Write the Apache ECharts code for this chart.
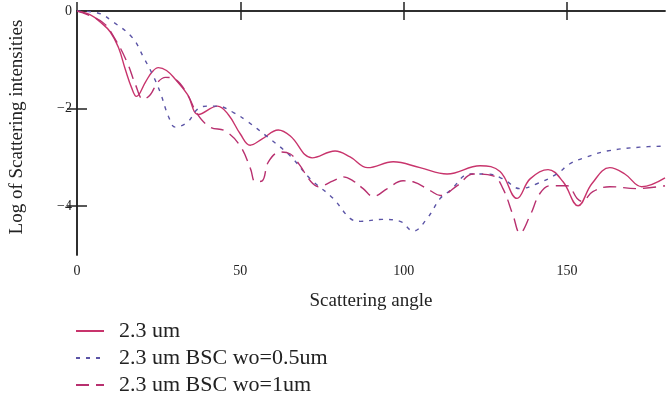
<!DOCTYPE html>
<html>
<head>
<meta charset="utf-8">
<script src="https://cdn.jsdelivr.net/npm/echarts@6/dist/echarts.min.js"></script>
<style>
  html, body { margin: 0; padding: 0; background: #fff; }
  #main { width: 666px; height: 399px; }
</style>
</head>
<body>
<div id="main"></div>
<script>
// values (angle in degrees, log intensity)
const solidX = [0, 4.1, 7.2, 10.2, 12.7, 14.8, 16.7, 18.2, 21, 23.1, 24.9, 27.4, 30.1, 33.8, 37.2, 43, 46.3, 50, 53, 56.7, 61.6, 65.3, 72, 79, 83.6, 89, 96.8, 105, 113.3, 123.4, 129.5, 134.7, 138.7, 144.2, 148.8, 153.4, 157.6, 163.1, 167.7, 172.9, 180];
const solidY = [0, -0.08, -0.23, -0.43, -0.75, -1.2, -1.57, -1.75, -1.45, -1.24, -1.16, -1.22, -1.4, -1.71, -2.12, -1.95, -2.12, -2.52, -2.75, -2.62, -2.44, -2.56, -3.01, -2.87, -2.99, -3.21, -3.09, -3.21, -3.34, -3.17, -3.29, -3.84, -3.44, -3.25, -3.5, -3.99, -3.54, -3.21, -3.34, -3.6, -3.42];

const halfX = [0, 6.3, 11.2, 17, 20.3, 23.4, 25.5, 28, 30.1, 33.8, 36.9, 39.9, 43, 47.9, 52.1, 58.3, 65.3, 71.4, 78.4, 83.6, 86.7, 93.4, 98.9, 102.9, 107.2, 111.2, 114.2, 120.3, 125.5, 130.4, 135.6, 140.8, 146.9, 150.9, 156.1, 162.2, 172.3, 180];
const halfY = [0, -0.04, -0.23, -0.55, -0.94, -1.34, -1.67, -2.16, -2.38, -2.28, -2.01, -1.95, -1.95, -2.08, -2.26, -2.58, -2.97, -3.44, -3.84, -4.25, -4.31, -4.27, -4.31, -4.51, -4.25, -3.84, -3.68, -3.34, -3.34, -3.44, -3.64, -3.54, -3.34, -3.13, -2.99, -2.87, -2.79, -2.77];

const oneX = [0, 7.8, 11.8, 15.4, 17.9, 20.3, 22.5, 24.6, 27.1, 30.1, 33.8, 36.9, 40.8, 45.4, 50, 53.1, 54.6, 56.7, 58.6, 62.2, 65.3, 68.3, 71.4, 73.9, 78.4, 81.5, 84.5, 87.6, 90.7, 95, 99.8, 102.9, 108.1, 111.2, 116.4, 121.3, 127.4, 130.4, 133.5, 135.6, 138.7, 141.7, 144.8, 150, 153.1, 154.6, 157.9, 163.1, 171.4, 180];
const oneY = [0, -0.23, -0.59, -1.06, -1.51, -1.81, -1.71, -1.47, -1.36, -1.4, -1.71, -2.12, -2.38, -2.46, -2.77, -3.23, -3.5, -3.48, -3.09, -2.89, -2.93, -3.17, -3.48, -3.6, -3.48, -3.4, -3.48, -3.64, -3.8, -3.64, -3.48, -3.5, -3.68, -3.78, -3.58, -3.34, -3.38, -3.64, -4.19, -4.55, -4.19, -3.74, -3.58, -3.58, -3.84, -3.9, -3.7, -3.6, -3.64, -3.58];

const xTicks = [0, 50, 100, 150];
const yLabels = [0, -2, -4];
const yTicks = [-2, -4];
const names = ['2.3 um', '2.3 um BSC wo=0.5um', '2.3 um BSC wo=1um'];

const font = 'Liberation Serif';
const pair = (xs, ys) => xs.map((x, i) => [x, ys[i]]);

var myChart = echarts.init(document.getElementById('main'));

const axisLine = { show: true, lineStyle: { color: '#222', width: 1.5 } };

var option = {
  animation: false,
  backgroundColor: '#fff',
  grid: { left: 77, top: 11, right: 1, height: 244 },
  legend: {
    orient: 'vertical',
    left: 75,
    top: 320,
    padding: 0,
    itemWidth: 28,
    itemHeight: 14,
    itemGap: 5,
    data: names,
    itemStyle: { opacity: 0 },
    textStyle: { fontFamily: font, fontSize: 22, lineHeight: 22, color: '#222', padding: [0, 0, 0, 10] }
  },
  xAxis: [
    {
      type: 'value', min: 0, max: 180, position: 'bottom',
      name: 'Scattering angle', nameLocation: 'middle', nameGap: 37,
      nameTextStyle: { fontFamily: font, fontSize: 19, color: '#222' },
      axisLine: axisLine,
      axisTick: { inside: true, length: 9, customValues: xTicks, lineStyle: { color: '#222', width: 1.5 } },
      axisLabel: { customValues: xTicks, margin: 9, fontFamily: font, fontSize: 14, color: '#222' },
      splitLine: { show: false }
    },
    {
      type: 'value', min: 0, max: 180, position: 'top',
      axisLine: axisLine,
      axisTick: { inside: true, length: 9, customValues: [50, 100, 150], lineStyle: { color: '#222', width: 1.5 } },
      axisLabel: { show: false },
      splitLine: { show: false }
    }
  ],
  yAxis: [
    {
      type: 'value', min: -5, max: 0, position: 'left',
      name: 'Log of Scattering intensities', nameLocation: 'middle', nameGap: 50, nameRotate: 90,
      nameTextStyle: { fontFamily: font, fontSize: 19, color: '#222', padding: [0, 0, 0, 12] },
      axisLine: axisLine,
      axisTick: { inside: true, length: 10, customValues: yTicks, lineStyle: { color: '#222', width: 1.5 } },
      axisLabel: {
        customValues: yLabels, margin: 5, fontFamily: font, fontSize: 14, color: '#222',
        formatter: v => String(v).replace('-', '\u2212')
      },
      splitLine: { show: false }
    },
    {
      type: 'value', min: -5, max: 0, position: 'right',
      axisLine: axisLine,
      axisTick: { inside: true, length: 10, customValues: yTicks, lineStyle: { color: '#222', width: 1.5 } },
      axisLabel: { show: false },
      splitLine: { show: false }
    }
  ],
  series: [
    {
      name: names[0], type: 'line', smooth: 0.4, showSymbol: false, symbol: 'none',
      data: pair(solidX, solidY),
      itemStyle: { color: '#c8346c' },
      lineStyle: { color: '#c8346c', width: 1.4 }
    },
    {
      name: names[1], type: 'line', smooth: 0.4, showSymbol: false, symbol: 'none',
      data: pair(halfX, halfY),
      itemStyle: { color: '#5b54a6' },
      lineStyle: { color: '#5b54a6', width: 1.4, type: [4, 6] }
    },
    {
      name: names[2], type: 'line', smooth: 0.4, showSymbol: false, symbol: 'none',
      data: pair(oneX, oneY),
      itemStyle: { color: '#b8306f' },
      lineStyle: { color: '#b8306f', width: 1.4, type: [13, 7] }
    }
  ]
};

myChart.setOption(option);
</script>
</body>
</html>
